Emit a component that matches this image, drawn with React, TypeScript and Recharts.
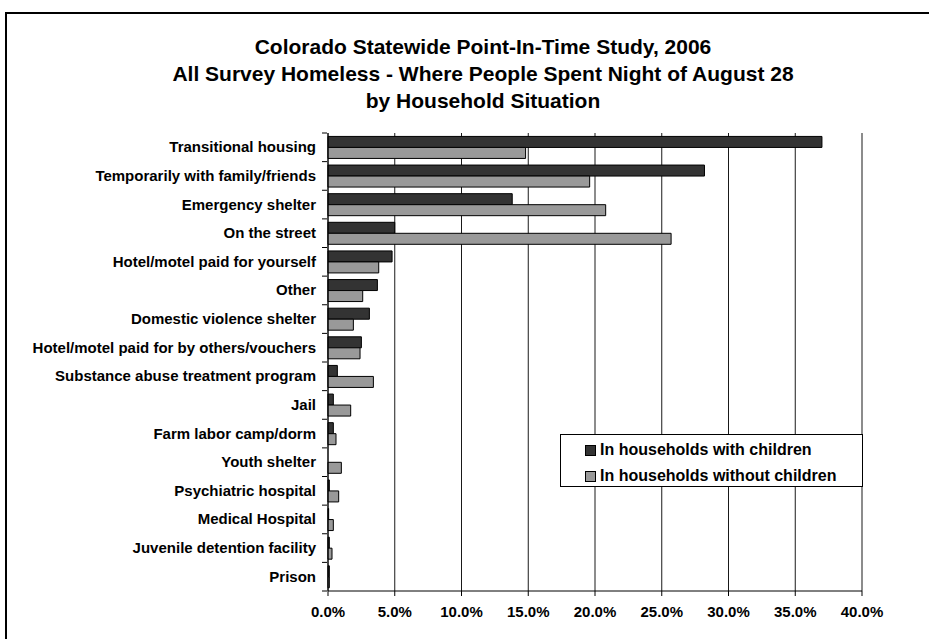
import React from 'react'
import { BarChart, Bar, XAxis, YAxis, CartesianGrid } from 'recharts'

const categories = [
  'Transitional housing',
  'Temporarily with family/friends',
  'Emergency shelter',
  'On the street',
  'Hotel/motel paid for yourself',
  'Other',
  'Domestic violence shelter',
  'Hotel/motel paid for by others/vouchers',
  'Substance abuse treatment program',
  'Jail',
  'Farm labor camp/dorm',
  'Youth shelter',
  'Psychiatric hospital',
  'Medical Hospital',
  'Juvenile detention facility',
  'Prison',
]

const withChildren = [37.0, 28.2, 13.8, 5.0, 4.8, 3.7, 3.1, 2.5, 0.7, 0.4, 0.4, 0.0, 0.1, 0.05, 0.1, 0.1]
const withoutChildren = [14.8, 19.6, 20.8, 25.7, 3.8, 2.6, 1.9, 2.4, 3.4, 1.7, 0.6, 1.0, 0.8, 0.4, 0.3, 0.1]

const xTicks = [0, 5, 10, 15, 20, 25, 30, 35, 40]

const titleLines = [
  'Colorado Statewide Point-In-Time Study, 2006',
  'All Survey Homeless - Where People Spent Night of August 28',
  'by Household Situation',
]

const seriesNames = ['In households with children', 'In households without children']

const data = categories.map((name, i) => ({
  name,
  withChildren: withChildren[i],
  withoutChildren: withoutChildren[i],
}))

const FONT = 'Arial, "Liberation Sans", Helvetica, sans-serif'
const DARK = '#333333'
const LIGHT = '#999999'

const W = 929
const H = 639
const TOP = 133
const BOTTOM = 48
const BAND = (H - TOP - BOTTOM) / categories.length

const CategoryTick = (props: any) => {
  const { x, y, payload, index } = props
  const last = index === categories.length - 1
  return (
    <g>
      <line x1={x + 2} x2={x + 7} y1={y - BAND / 2} y2={y - BAND / 2} stroke="#000" />
      {last && <line x1={x + 2} x2={x + 7} y1={y + BAND / 2} y2={y + BAND / 2} stroke="#000" />}
      <text x={x - 4} y={y} dy={5} textAnchor="end" fontSize={15} fontWeight="bold" fontFamily={FONT} fill="#000">
        {payload.value}
      </text>
    </g>
  )
}

const LegendBox = () => (
  <div
    style={{
      position: 'absolute',
      left: 560,
      top: 434,
      width: 303,
      height: 53,
      border: '1px solid #000',
      background: '#fff',
      boxSizing: 'border-box',
      fontFamily: FONT,
      fontWeight: 'bold',
      fontSize: 16,
      paddingLeft: 24,
      paddingTop: 3,
    }}
  >
    {seriesNames.map((label, i) => (
      <div key={label} style={{ display: 'flex', alignItems: 'center', height: 24, marginBottom: 2 }}>
        <span
          style={{
            display: 'inline-block',
            width: 9,
            height: 9,
            background: i === 0 ? DARK : LIGHT,
            border: '1px solid #000',
            marginRight: 4,
          }}
        />
        {label}
      </div>
    ))}
  </div>
)

export default function App() {
  return (
    <div style={{ position: 'absolute', left: 0, top: 0, width: W, height: H, overflow: 'hidden', background: '#fff' }}>
      <svg width={W} height={H} style={{ position: 'absolute', left: 0, top: 0 }}>
        <path d={`M6 ${H + 10} L6 13 L${W + 10} 13`} fill="none" stroke="#000" strokeWidth={2} />
      </svg>
      <div
        style={{
          position: 'absolute',
          left: 0,
          top: 33,
          width: 966,
          textAlign: 'center',
          fontFamily: FONT,
          fontWeight: 'bold',
          fontSize: 21,
          lineHeight: '27px',
          color: '#000',
        }}
      >
        {titleLines.map((t) => (
          <div key={t}>{t}</div>
        ))}
      </div>
      <div style={{ position: 'absolute', left: 0, top: 0 }}>
        <BarChart
          width={W}
          height={H}
          data={data}
          layout="vertical"
          margin={{ top: TOP, right: 67, left: 8, bottom: BOTTOM - 30 }}
          barCategoryGap="12%"
          barGap={0}
        >
          <CartesianGrid horizontal={false} stroke="#000" strokeOpacity={0.9} />
          <XAxis
            type="number"
            domain={[0, 40]}
            ticks={xTicks}
            tickFormatter={(v: number) => `${v.toFixed(1)}%`}
            tick={{ fontSize: 15, fontWeight: 'bold', fontFamily: FONT, fill: '#000' }}
            tickSize={5}
            tickMargin={10}
            axisLine={{ stroke: '#000' }}
            tickLine={{ stroke: '#000' }}
            height={30}
            interval={0}
          />
          <XAxis
            xAxisId="top"
            orientation="top"
            type="number"
            domain={[0, 40]}
            tick={false}
            tickLine={false}
            axisLine={{ stroke: '#808080' }}
            height={0}
          />
          <YAxis
            type="category"
            dataKey="name"
            width={320}
            tick={<CategoryTick />}
            tickLine={false}
            axisLine={{ stroke: '#000' }}
            interval={0}
          />
          <Bar
            dataKey="withChildren"
            name={seriesNames[0]}
            fill={DARK}
            stroke="#000"
            strokeWidth={1}
            isAnimationActive={false}
          />
          <Bar
            dataKey="withoutChildren"
            name={seriesNames[1]}
            fill={LIGHT}
            stroke="#000"
            strokeWidth={1}
            isAnimationActive={false}
          />
        </BarChart>
      </div>
      <LegendBox />
    </div>
  )
}
